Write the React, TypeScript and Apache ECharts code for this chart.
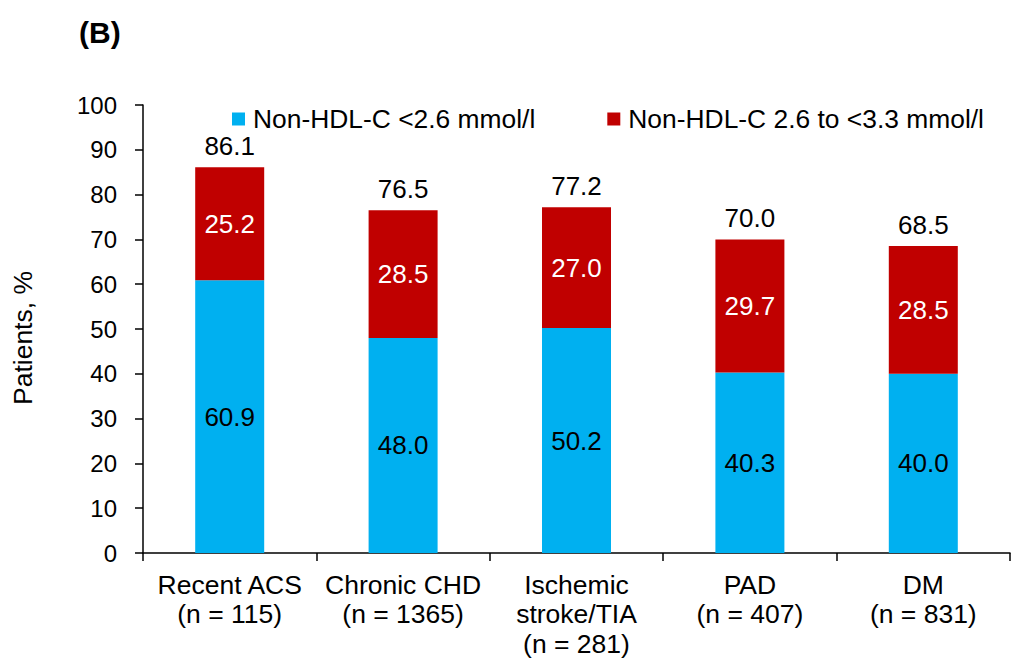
import React, { useEffect, useRef } from "react";
import * as echarts from "echarts";

const categories = [
  "Recent ACS\n(n = 115)",
  "Chronic CHD\n(n = 1365)",
  "Ischemic\nstroke/TIA\n(n = 281)",
  "PAD\n(n = 407)",
  "DM\n(n = 831)",
];
const seriesLow = [60.9, 48.0, 50.2, 40.3, 40.0];
const seriesMid = [25.2, 28.5, 27.0, 29.7, 28.5];
const totals = [86.1, 76.5, 77.2, 70.0, 68.5];
const yTicks = { min: 0, max: 100, interval: 10 };
const legendNames = ["Non-HDL-C <2.6 mmol/l", "Non-HDL-C 2.6 to <3.3 mmol/l"];

const FONT = "'Liberation Sans', Arial, sans-serif";

export default function App() {
  const ref = useRef<HTMLDivElement>(null);
  useEffect(() => {
    document.body.style.margin = "0";
    if (!ref.current) return;
    const chart = echarts.init(ref.current, null, { renderer: "svg" });
    chart.setOption({
      animation: false,
      textStyle: { fontFamily: FONT },
      title: {
        text: "(B)",
        left: 74,
        top: 12,
        textStyle: { fontSize: 30, fontWeight: "bold", color: "#000", fontFamily: FONT },
      },
      graphic: [
        {
          type: "text",
          x: 23,
          y: 338,
          rotation: Math.PI / 2,
          style: {
            text: "Patients, %",
            fontSize: 26.5,
            fontFamily: FONT,
            fill: "#000",
            align: "center",
            verticalAlign: "middle",
          },
        },
      ],
      legend: {
        data: legendNames,
        left: 227,
        top: 101,
        itemWidth: 13,
        itemHeight: 13,
        itemGap: 72,
        icon: "rect",
        textStyle: { fontSize: 26.4, color: "#000", fontFamily: FONT, padding: [0, 0, 0, 3] },
      },
      grid: { left: 143, right: 6, top: 105, bottom: 107, containLabel: false },
      xAxis: {
        type: "category",
        data: categories,
        axisLine: { lineStyle: { color: "#000", width: 1.5 } },
        axisTick: { show: true, length: 8, lineStyle: { color: "#000", width: 1.5 } },
        axisLabel: {
          color: "#000",
          fontSize: 26.5,
          lineHeight: 29.5,
          margin: 17,
          interval: 0,
          fontFamily: FONT,
        },
      },
      yAxis: {
        type: "value",
        min: yTicks.min,
        max: yTicks.max,
        interval: yTicks.interval,
        axisLine: { show: true, lineStyle: { color: "#000", width: 1.5 } },
        axisTick: { show: true, length: 8, lineStyle: { color: "#000", width: 1.5 } },
        splitLine: { show: false },
        axisLabel: { color: "#000", fontSize: 24, margin: 26, fontFamily: FONT },
      },
      series: [
        {
          name: legendNames[0],
          type: "bar",
          stack: "a",
          data: seriesLow,
          barWidth: 69,
          itemStyle: { color: "#00B0F0" },
          label: {
            show: true,
            position: "inside",
            color: "#000",
            fontSize: 26,
            fontFamily: FONT,
            formatter: (p: any) => Number(p.value).toFixed(1),
          },
        },
        {
          name: legendNames[1],
          type: "bar",
          stack: "a",
          data: seriesMid,
          barWidth: 69,
          itemStyle: { color: "#C00000" },
          label: {
            show: true,
            position: "inside",
            color: "#fff",
            fontSize: 26,
            fontFamily: FONT,
            formatter: (p: any) => Number(p.value).toFixed(1),
          },
        },
        {
          name: "total",
          type: "line",
          data: totals,
          symbol: "circle",
          showSymbol: true,
          symbolSize: 1,
          silent: true,
          z: 5,
          itemStyle: { color: "rgba(0,0,0,0)", opacity: 1 },
          lineStyle: { width: 0, opacity: 0 },
          label: {
            show: true,
            position: "top",
            distance: 8,
            color: "#000",
            opacity: 1,
            fontSize: 26,
            fontFamily: FONT,
            formatter: (p: any) => Number(p.value).toFixed(1),
          },
        },
      ],
    });
    return () => chart.dispose();
  }, []);
  return <div ref={ref} style={{ width: 1016, height: 660 }} />;
}
